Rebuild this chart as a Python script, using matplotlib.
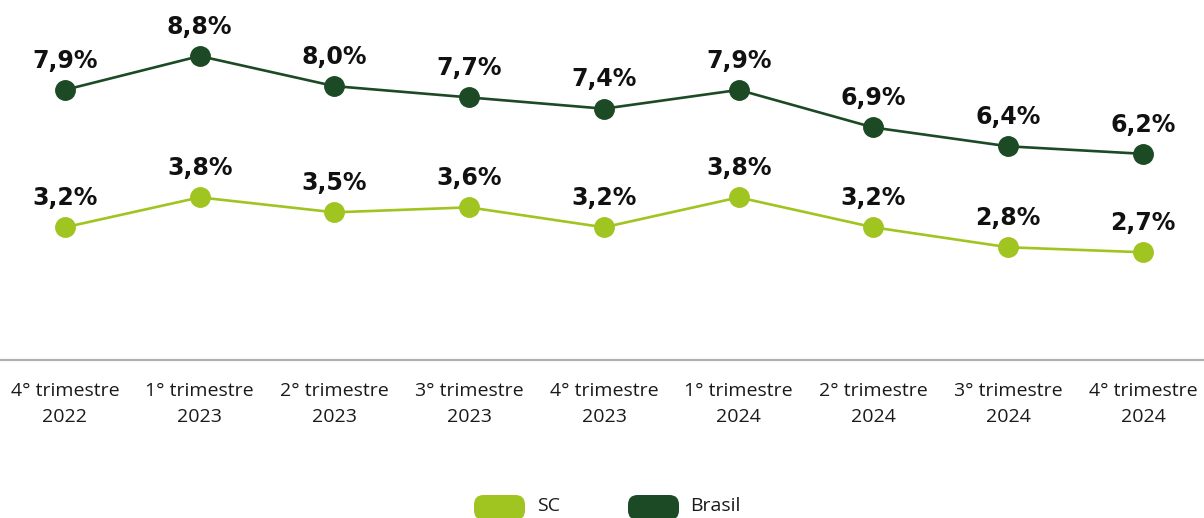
import matplotlib
matplotlib.use("Agg")
import matplotlib.pyplot as plt
from matplotlib.patches import FancyBboxPatch

categories = ["4° trimestre\n2022", "1° trimestre\n2023", "2° trimestre\n2023",
              "3° trimestre\n2023", "4° trimestre\n2023", "1° trimestre\n2024",
              "2° trimestre\n2024", "3° trimestre\n2024", "4° trimestre\n2024"]
brasil = [7.9, 8.8, 8.0, 7.7, 7.4, 7.9, 6.9, 6.4, 6.2]
sc = [3.2, 3.8, 3.5, 3.6, 3.2, 3.8, 3.2, 2.8, 2.7]
series_names = ["SC", "Brasil"]

C_SC = "#a0c420"
C_BR = "#1c4a24"

W, H = 1204, 518
fig = plt.figure(figsize=(W / 100, H / 100), dpi=100)
ax = fig.add_axes([0, 1 - 360 / H, 1, 360 / H])
ax2 = ax.twinx()
x = list(range(len(categories)))

for a, vals, col in ((ax2, sc, C_SC), (ax, brasil, C_BR)):
    a.plot(x, vals, color=col, lw=1.9, marker="o", ms=14, mec=col, mfc=col,
           solid_capstyle="round", zorder=3, clip_on=False)
    for xi, v in zip(x, vals):
        a.annotate(f"{v:.1f}%".replace(".", ","), (xi, v), xytext=(0, 16),
                   textcoords="offset points", ha="center", va="baseline",
                   fontsize=17, fontweight="bold", family="DejaVu Sans", color="#111111")

for a in (ax, ax2):
    a.set_xlim(-0.482, 8.453)
    for s in ("top", "right", "left", "bottom"):
        a.spines[s].set_visible(False)
    a.set_yticks([])
ax.set_ylim(0.718, 10.29)
ax2.set_ylim(0.541, 7.755)
ax.spines["bottom"].set_visible(True)
ax.spines["bottom"].set_color("#b0b0b0")
ax.spines["bottom"].set_linewidth(1.6)
ax.set_xticks(x)
ax.set_xticklabels(categories, fontsize=14, family="Open Sans", color="#1a1a1a",
                   linespacing=1.55)
ax.tick_params(axis="x", length=0, pad=16)
ax2.tick_params(axis="x", length=0)

# legend
for name, col, px, tx in ((series_names[0], C_SC, 474, 537), (series_names[1], C_BR, 628, 690)):
    p = FancyBboxPatch((px / W, 1 - 520 / H), 51 / W, 25 / H,
                       boxstyle="round,pad=0,rounding_size=0.008",
                       transform=fig.transFigure, facecolor=col, edgecolor="none",
                       mutation_aspect=W / H)
    fig.patches.append(p)
    fig.text(tx / W, 1 - 506 / H, name, fontsize=14, family="Open Sans",
             color="#1a1a1a", va="center", ha="left")

fig.savefig("out.png", dpi=100)
